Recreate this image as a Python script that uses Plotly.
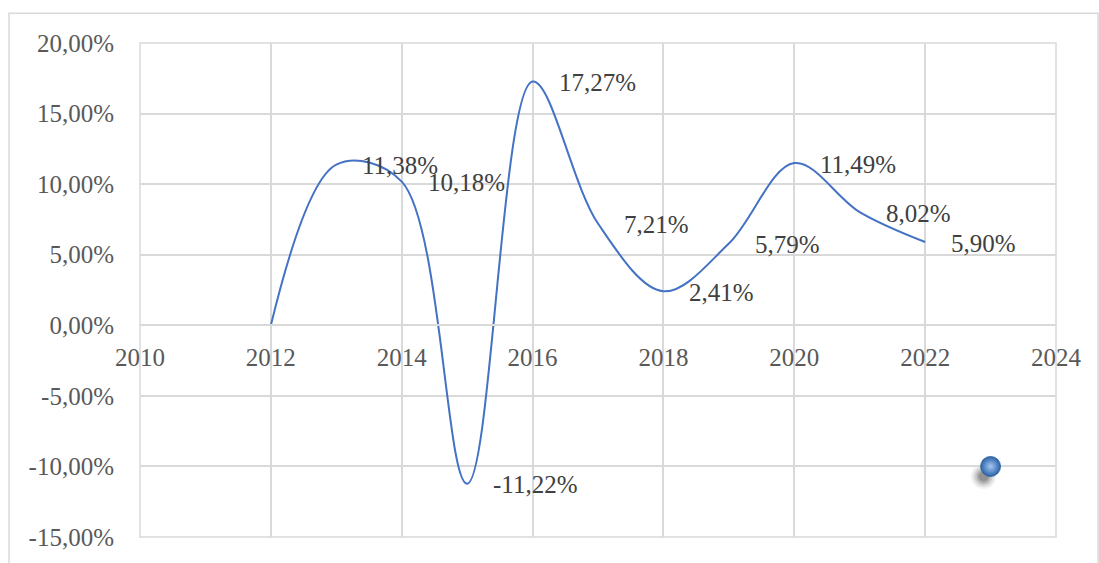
import plotly.graph_objects as go

# Annual growth rate series
years = [2012, 2013, 2014, 2015, 2016, 2017, 2018, 2019, 2020, 2021, 2022]
growth = [0.0, 11.38, 10.18, -11.22, 17.27, 7.21, 2.41, 5.79, 11.49, 8.02, 5.90]
# Labelled points (2012 has no label)
label_years = [2013, 2014, 2015, 2016, 2017, 2018, 2019, 2020, 2021, 2022]
label_values = [11.38, 10.18, -11.22, 17.27, 7.21, 2.41, 5.79, 11.49, 8.02, 5.90]

# Standalone marker
point_x = [2023]
point_y = [-10.0]

x_ticks = [2010, 2012, 2014, 2016, 2018, 2020, 2022, 2024]
y_ticks = [20, 15, 10, 5, 0, -5, -10, -15]
y_tick_text = ["20,00%", "15,00%", "10,00%", "5,00%", "0,00%", "-5,00%", "-10,00%", "-15,00%"]

X_RANGE = [2010, 2024]
Y_RANGE = [-15, 20]

FONT = "Liberation Serif"
GRID = "#d9d9d9"
BLUE = "#4472c4"


def pct(v):
    return f"{v:.2f}".replace(".", ",") + "%"


fig = go.Figure()

fig.add_trace(go.Scatter(
    x=years, y=growth, mode="lines",
    line=dict(color=BLUE, width=2, shape="spline", smoothing=1.0),
    hoverinfo="skip", showlegend=False,
))

fig.add_trace(go.Scatter(
    x=point_x, y=point_y, mode="markers",
    marker=dict(size=20, color="#2b62a8",
                gradient=dict(type="radial", color="#a4c8f2"),
                line=dict(color="#2a5d9c", width=0.8)),
    hoverinfo="skip", showlegend=False,
))

shapes = []
# soft drop shadow under the marker
for r, op in [(13, 0.04), (11, 0.07), (9, 0.1), (7, 0.13), (5, 0.16)]:
    shapes.append(dict(
        type="circle", xref="x", yref="y", xsizemode="pixel", ysizemode="pixel",
        xanchor=point_x[0], yanchor=point_y[0],
        x0=-7 - r, x1=-7 + r, y0=-10 - r, y1=-10 + r,
        fillcolor=f"rgba(0,0,0,{op})", line=dict(width=0), layer="below",
    ))
# plot area border
shapes.append(dict(type="rect", xref="paper", yref="paper", x0=0, x1=1, y0=0, y1=1,
                   line=dict(color=GRID, width=1.5), layer="below"))
# chart area border
shapes.append(dict(type="rect", xref="paper", yref="paper",
                   x0=-0.143, x1=1.0459, y0=-0.06, y1=1.06,
                   line=dict(color=GRID, width=1.5), layer="below"))

annotations = []
for xv, yv in zip(label_years, label_values):
    annotations.append(dict(
        x=xv, y=yv, xref="x", yref="y", text=pct(yv), showarrow=False,
        xanchor="left", yanchor="middle", xshift=24, yshift=-1,
        font=dict(family=FONT, size=25, color="#404040"),
    ))

fig.update_layout(
    width=1099, height=563,
    margin=dict(l=140, r=43, t=43, b=22),
    paper_bgcolor="white", plot_bgcolor="white",
    shapes=shapes, annotations=annotations,
    xaxis=dict(
        range=X_RANGE, tickvals=x_ticks, ticktext=[str(v) for v in x_ticks],
        showgrid=True, gridcolor=GRID, gridwidth=1.5,
        zeroline=False, showline=True, linecolor=GRID, linewidth=1.5,
        anchor="free", position=(0 - Y_RANGE[0]) / (Y_RANGE[1] - Y_RANGE[0]),
        ticks="", ticklabelstandoff=10,
        tickfont=dict(family=FONT, size=25, color="#595959"),
    ),
    yaxis=dict(
        range=Y_RANGE, tickvals=y_ticks, ticktext=y_tick_text,
        showgrid=True, gridcolor=GRID, gridwidth=1.5,
        zeroline=False, showline=False, ticks="", ticklabelstandoff=25,
        tickfont=dict(family=FONT, size=25, color="#595959"),
    ),
)

fig.write_html("out.html")
